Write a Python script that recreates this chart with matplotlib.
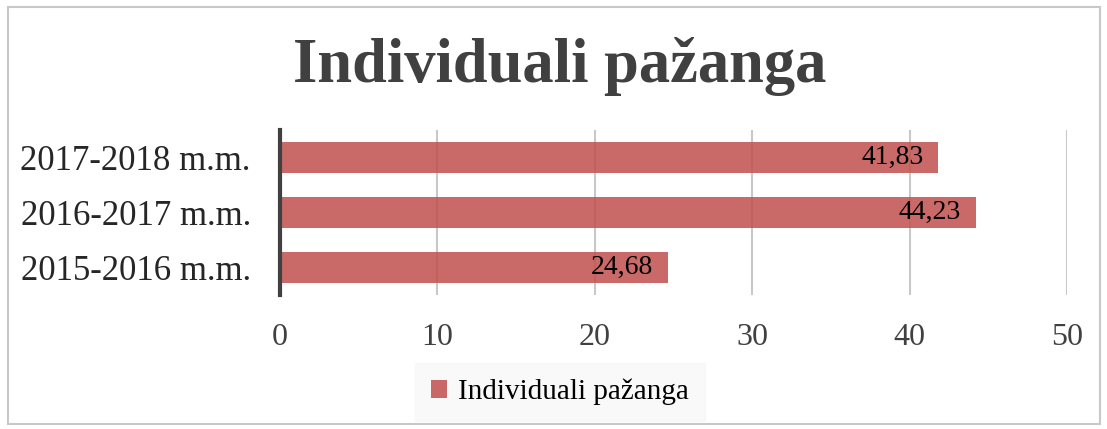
import matplotlib
matplotlib.use('Agg')
from matplotlib import pyplot as plt
from matplotlib.patches import Rectangle

categories = ['2015-2016 m.m.', '2016-2017 m.m.', '2017-2018 m.m.']
values = [24.68, 44.23, 41.83]
value_labels = ['24,68', '44,23', '41,83']
series_name = 'Individuali pažanga'
x_ticks = [0, 10, 20, 30, 40, 50]

plt.rcParams['font.family'] = ['Liberation Serif', 'DejaVu Serif']

fig = plt.figure(figsize=(11.07, 4.29), dpi=100)
fig.patches.append(Rectangle((8 / 1107, 1 - 424 / 429), 1092 / 1107, 417 / 429,
                             transform=fig.transFigure, fill=False,
                             edgecolor='#C8C8C8', linewidth=1.5))

ax = fig.add_axes([280 / 1107, 1 - 295 / 429, 787 / 1107, 165 / 429])
bar_color = '#C0504D'
bars = ax.barh(range(len(categories)), values, height=0.57, color=bar_color,
               alpha=0.85, label=series_name, zorder=3)
for i, (v, lab) in enumerate(zip(values, value_labels)):
    ax.annotate(lab, (v, i), xytext=(-15, 0), textcoords='offset pixels',
                ha='right', va='center', fontsize=20, color='black', zorder=4)

ax.set_xlim(0, 50)
ax.set_ylim(-0.5, 2.5)
ax.set_xticks(x_ticks)
ax.set_xticklabels([str(t) for t in x_ticks], fontsize=23, color='#404040')
ax.set_yticks(range(len(categories)))
ax.set_yticklabels(categories, fontsize=25, color='#262626')
ax.tick_params(axis='both', length=0)
ax.tick_params(axis='x', pad=20)
ax.tick_params(axis='y', pad=21)
ax.grid(axis='x', color='#C8C8C8', linewidth=1.5, zorder=0)
for s in ['top', 'right', 'bottom']:
    ax.spines[s].set_visible(False)
ax.spines['left'].set_color('#404040')
ax.spines['left'].set_linewidth(3)
ax.spines['left'].set_zorder(5)

fig.text(0.506, 1 - 67 / 429, series_name, ha='center', va='center',
         fontsize=45, fontweight='bold', color='#404040')

leg = fig.legend(handles=[bars], labels=[series_name], loc='center',
                 bbox_to_anchor=(560 / 1107, 1 - 392 / 429), fontsize=21,
                 frameon=True, fancybox=False, handlelength=0.55, handleheight=0.55,
                 handletextpad=0.4, borderpad=0.55)
leg.get_frame().set_facecolor('#F8F8F8')
leg.get_frame().set_edgecolor('#F8F8F8')

fig.savefig('out.png', dpi=100)
plt.close(fig)
